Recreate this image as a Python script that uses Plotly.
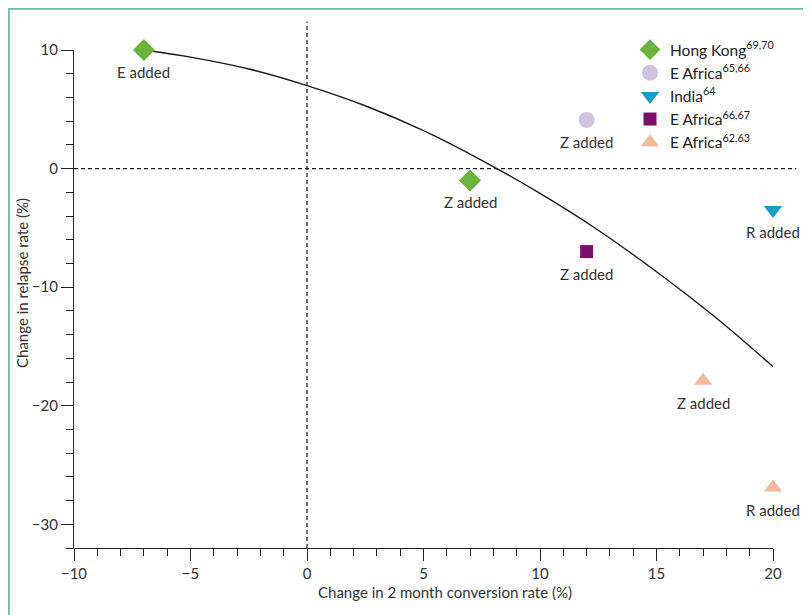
import plotly.graph_objects as go

# ---- data ----
x_range = [-10, 20]
y_range = [-32, 10]

hk_x = [-7, 7]
hk_y = [10, -1]
hk_lab = ["E added", "Z added"]

ea1_x = [12]
ea1_y = [4.1]
ea1_lab = ["Z added"]

ind_x = [20]
ind_y = [-3.5]
ind_lab = ["R added"]

ea2_x = [12]
ea2_y = [-7]
ea2_lab = ["Z added"]

ea3_x = [17, 20]
ea3_y = [-17.9, -26.9]
ea3_lab = ["Z added", "R added"]

curve_x = [-7, -5, -2.5, 0, 2.5, 5, 7.5, 10, 12.5, 15, 17.5, 20]
curve_y = [10.0, 9.4, 8.4, 7.0, 5.3, 3.2, 0.7, -2.1, -5.2, -8.7, -12.5, -16.7]

x_ticks = [-10, -5, 0, 5, 10, 15, 20]
y_ticks = [-30, -20, -10, 0, 10]

FONT = "Lato, 'Open Sans', sans-serif"
TXT = "#333333"

# page has an 8px body margin; lay out in figure coordinates
W, H = 803, 607
L, R, T, B = 66, 38, 42, 67
PW, PH = W - L - R, H - T - B

def fx(page_x):
    return (page_x - 8 - L) / PW

def fy(page_y):
    return 1 - (page_y - 8 - T) / PH

fig = go.Figure()

fig.add_trace(go.Scatter(x=curve_x, y=curve_y, mode="lines", line=dict(color="#1a1a1a", width=1.4, shape="spline"),
                         showlegend=False, hoverinfo="skip"))

series = [
    ("Hong Kong<sup>69,70</sup>", hk_x, hk_y, hk_lab, "diamond", "#6ab43e", 17),
    ("E Africa<sup>65,66</sup>", ea1_x, ea1_y, ea1_lab, "circle", "#d0c4e1", 16),
    ("India<sup>64</sup>", ind_x, ind_y, ind_lab, "triangle-down", "#14a0c4", 16),
    ("E Africa<sup>66,67</sup>", ea2_x, ea2_y, ea2_lab, "square", "#7d0f6c", 13),
    ("E Africa<sup>62,63</sup>", ea3_x, ea3_y, ea3_lab, "triangle-up", "#f7b8a0", 16),
]

annotations = []
for name, xs, ys, labs, sym, col, sz in series:
    fig.add_trace(go.Scatter(x=xs, y=ys, mode="markers", name=name, cliponaxis=False,
                             marker=dict(symbol=sym, color=col, size=sz, line=dict(width=0))))
    for xv, yv, lab in zip(xs, ys, labs):
        annotations.append(dict(x=xv, y=yv, xref="x", yref="y", text=lab, showarrow=False,
                                yshift=-22, font=dict(family=FONT, size=15, color=TXT)))

# axis titles
annotations.append(dict(x=fx(445), y=fy(592), xref="paper", yref="paper",
                        text="Change in 2 month conversion rate (%)", showarrow=False,
                        xanchor="center", yanchor="middle", font=dict(family=FONT, size=15, color=TXT)))
annotations.append(dict(x=fx(22), y=fy(283), xref="paper", yref="paper",
                        text="Change in relapse rate (%)", showarrow=False, textangle=-90,
                        xanchor="center", yanchor="middle", font=dict(family=FONT, size=15, color=TXT)))

# reference dashed lines (paper coords computed from data ranges)
def px(v):
    return (v - x_range[0]) / (x_range[1] - x_range[0])

def py(v):
    return (v - y_range[0]) / (y_range[1] - y_range[0])

fig.add_shape(type="line", xref="paper", yref="paper", x0=px(0), x1=px(0), y0=0, y1=py(12.4),
              line=dict(color="#1a1a1a", width=1.2, dash="4px,3px"))
fig.add_shape(type="line", xref="paper", yref="paper", x0=0, x1=px(21.0), y0=py(0), y1=py(0),
              line=dict(color="#1a1a1a", width=1.2, dash="4px,3px"))

# outer green frame (at the figure's left/top edge)
fig.add_shape(type="rect", xref="paper", yref="paper", x0=(0.5 - L) / PW, x1=1.2, y0=-0.3, y1=1 + (T - 0.5) / PH,
              line=dict(color="#72b99b", width=2.5), fillcolor="rgba(0,0,0,0)")

axis_common = dict(showgrid=False, zeroline=False, showline=True, linecolor="#222222", linewidth=1.3,
                   ticks="outside", ticklen=12, tickwidth=1.3, tickcolor="#222222", automargin=False,
                   tickfont=dict(family=FONT, size=15, color=TXT))

fig.update_xaxes(range=x_range, tickvals=x_ticks, ticktext=["\u221210", "\u22125", "0", "5", "10", "15", "20"],
                 minor=dict(dtick=1, ticks="outside", ticklen=7, tickwidth=1.3, tickcolor="#222222"),
                 **axis_common)
fig.update_yaxes(range=y_range, tickvals=y_ticks, ticktext=["\u221230", "\u221220", "\u221210", "0", "10"],
                 minor=dict(dtick=2, ticks="outside", ticklen=7, tickwidth=1.3, tickcolor="#222222"),
                 **axis_common)

fig.update_layout(
    width=W, height=H,
    margin=dict(l=L, r=R, t=T, b=B),
    paper_bgcolor="white", plot_bgcolor="white",
    font=dict(family=FONT, size=15, color=TXT),
    annotations=annotations,
    legend=dict(x=fx(630), y=fy(33), xanchor="left", yanchor="top",
                bgcolor="rgba(0,0,0,0)", font=dict(family=FONT, size=15.5, color="#222222"),
                tracegroupgap=0, itemwidth=30),
)

fig.write_html("out.html")
